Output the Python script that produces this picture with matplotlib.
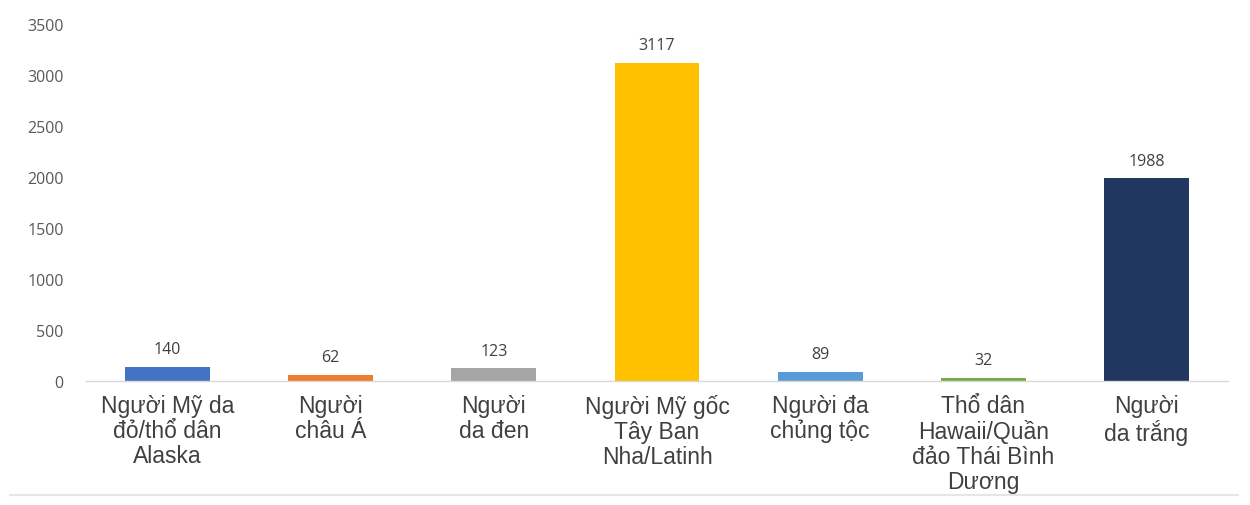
import matplotlib.pyplot as plt
from matplotlib.lines import Line2D

# Data
categories = ['Người Mỹ da\nđỏ/thổ dân\nAlaska', 'Người\nchâu Á', 'Người\nda đen',
              'Người Mỹ gốc\nTây Ban\nNha/Latinh', 'Người đa\nchủng tộc',
              'Thổ dân\nHawaii/Quần\nđảo Thái Bình\nDương', 'Người\nda trắng']
values = [140, 62, 123, 3117, 89, 32, 1988]
colors = ['#4472C4', '#ED7D31', '#A5A5A5', '#FFC000', '#5B9BD5', '#70AD47', '#22375F']
yticks = [0, 500, 1000, 1500, 2000, 2500, 3000, 3500]

plt.rcParams['font.family'] = ['Liberation Sans', 'DejaVu Sans']

fig = plt.figure(figsize=(12.5, 5.06), dpi=100)
ax = fig.add_axes([0.0688, 0.245, 0.9136, 0.7056])

x = range(len(values))
bars = ax.bar(x, values, width=0.52, color=colors)
for xi, v in zip(x, values):
    ax.annotate(str(v), (xi, v), xytext=(0, 7), textcoords='offset points',
                ha='center', va='bottom', fontsize=11.5, color='#404040',
                family=['Open Sans', 'DejaVu Sans'])

ax.set_xlim(-0.5, len(values) - 0.5)
ax.set_ylim(0, 3500)
ax.set_yticks(yticks)
ax.set_yticklabels([str(t) for t in yticks], fontsize=11.5, color='#595959',
                   family=['Open Sans', 'DejaVu Sans'])
ax.set_xticks(list(x))
ax.set_xticklabels(categories, fontsize=16.5, color='#404040', linespacing=1.12)
ax.tick_params(axis='y', length=0, pad=16)
ax.tick_params(axis='x', length=0, pad=9)

for s in ['top', 'right', 'left']:
    ax.spines[s].set_visible(False)
ax.spines['bottom'].set_color('#D9D9D9')
ax.spines['bottom'].set_linewidth(1)

# light separator line near the bottom
fig.add_artist(Line2D([0.008, 0.99], [1 - 496 / 506, 1 - 496 / 506],
                      transform=fig.transFigure, color='#E6E6E6', lw=1.5, zorder=0))

fig.savefig('out.png', dpi=100, facecolor='white')
